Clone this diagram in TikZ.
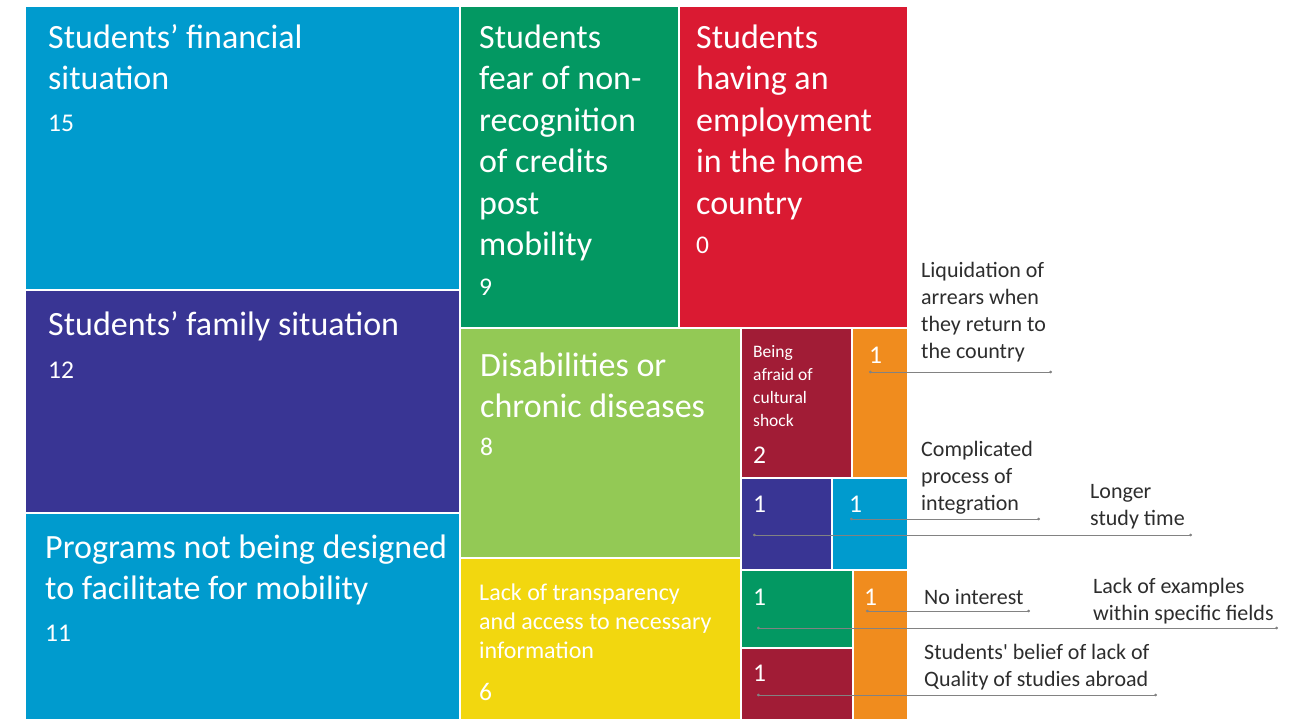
\documentclass[tikz,border=0pt]{standalone}
\usepackage{fontspec}
\setmainfont{Carlito}
\usetikzlibrary{arrows.meta}
\definecolor{cblue}{RGB}{0,155,206}
\definecolor{cpurple}{RGB}{57,53,148}
\definecolor{cgreen}{RGB}{3,152,98}
\definecolor{cred}{RGB}{218,26,50}
\definecolor{clgreen}{RGB}{147,201,85}
\definecolor{cyellow}{RGB}{242,215,15}
\definecolor{cmaroon}{RGB}{161,28,54}
\definecolor{corange}{RGB}{240,140,30}
\definecolor{ctext}{RGB}{45,45,45}
\definecolor{cline}{RGB}{130,130,130}
\tikzset{
  big/.style={anchor=base west,inner sep=0pt,text=white,align=left,font=\fontsize{34}{41.5}\selectfont},
  mid/.style={anchor=base west,inner sep=0pt,text=white,align=left,font=\fontsize{24}{29}\selectfont},
  num/.style={anchor=base west,inner sep=0pt,text=white,font=\fontsize{25.5}{29}\selectfont},
  small/.style={anchor=base west,inner sep=0pt,text=white,align=left,font=\fontsize{17.5}{23}\selectfont},
  callout/.style={anchor=base west,inner sep=0pt,text=ctext,align=left,font=\fontsize{22}{27}\selectfont},
  leader/.style={draw=cline,line width=0.9pt,{Circle[length=2.6pt]}-{Circle[length=2.6pt]}}
}
\begin{document}
\begin{tikzpicture}[x=1pt,y=-1pt]
\useasboundingbox (0,0) rectangle (1293,719);
% cells
\fill[cblue]   (26,7) rectangle (459,289);
\fill[cpurple] (26,291) rectangle (459,512);
\fill[cblue]   (26,514) rectangle (459,719);
\fill[cgreen]  (461,7) rectangle (678,327);
\fill[cred]    (680,7) rectangle (907,327);
\fill[clgreen] (461,329) rectangle (740,557);
\fill[cyellow] (461,559) rectangle (740,719);
\fill[cmaroon] (742,329) rectangle (851,477);
\fill[corange] (853,329) rectangle (907,477);
\fill[cpurple] (742,479) rectangle (831,569);
\fill[cblue]   (833,479) rectangle (907,569);
\fill[cgreen]  (742,571) rectangle (852,647);
\fill[cmaroon] (742,649) rectangle (852,719);
\fill[corange] (854,571) rectangle (907,719);
% cell labels (anchor = baseline of last line)
\node[big] (tA) at (48,89.8) {Students’ financial\\situation};
\node[num] (nA) at (48,132) {15};
\node[big] (tB) at (48,335) {Students’ family situation};
\node[num] (nB) at (48,378) {12};
\node[big] (tC) at (45,599.5) {Programs not being designed\\to facilitate for mobility};
\node[num] (nC) at (45,641) {11};
\node[big] (tD) at (479,255.8) {Students\\fear of non-\\recognition\\of credits\\post\\mobility};
\node[num] (nD) at (479,296) {9};
\node[big] (tE) at (696,214.3) {Students\\having an\\employment\\in the home\\country};
\node[num] (nE) at (696,254) {0};
\node[big] (tF) at (480,417.5) {Disabilities or\\chronic diseases};
\node[num] (nF) at (480,455) {8};
\node[mid] (tG) at (479,658) {Lack of transparency\\and access to necessary\\information};
\node[num] (nG) at (479,700) {6};
\node[small] (tH) at (753,426.5) {Being\\afraid of\\cultural\\shock};
\node[num] (nH) at (753,463) {2};
\node[num] (nI) at (869,363) {1};
\node[num] (nJ) at (753,512) {1};
\node[num] (nK) at (849,512) {1};
\node[num] (nL) at (753,605) {1};
\node[num] (nN) at (864,605) {1};
\node[num] (nM) at (753,681) {1};
% callout labels
\node[callout] (lI) at (921,358) {Liquidation of\\arrears when\\they return to\\the country};
\node[callout] (lK) at (921,510) {Complicated\\process of\\integration};
\node[callout] (lJ) at (1090,525) {Longer\\study time};
\node[callout] (lN) at (924,604) {No interest};
\node[callout] (lL) at (1093,620) {Lack of examples\\within specific fields};
\node[callout] (lM) at (924,686) {Students\textquotesingle\ belief of lack of\\Quality of studies abroad};
% leader lines
\coordinate (sI) at (869,372); \coordinate (eI) at (1052,372);
\coordinate (sK) at (850,519); \coordinate (eK) at (1040,519);
\coordinate (sJ) at (753,535); \coordinate (eJ) at (1192,535);
\coordinate (sN) at (866,611); \coordinate (eN) at (1030,611);
\coordinate (sL) at (757,628); \coordinate (eL) at (1278,628);
\coordinate (sM) at (757,695); \coordinate (eM) at (1157,695);
\draw[leader] (sI) -- (eI);
\draw[leader] (sK) -- (eK);
\draw[leader] (sJ) -- (eJ);
\draw[leader] (sN) -- (eN);
\draw[leader] (sL) -- (eL);
\draw[leader] (sM) -- (eM);
\end{tikzpicture}
\end{document}
